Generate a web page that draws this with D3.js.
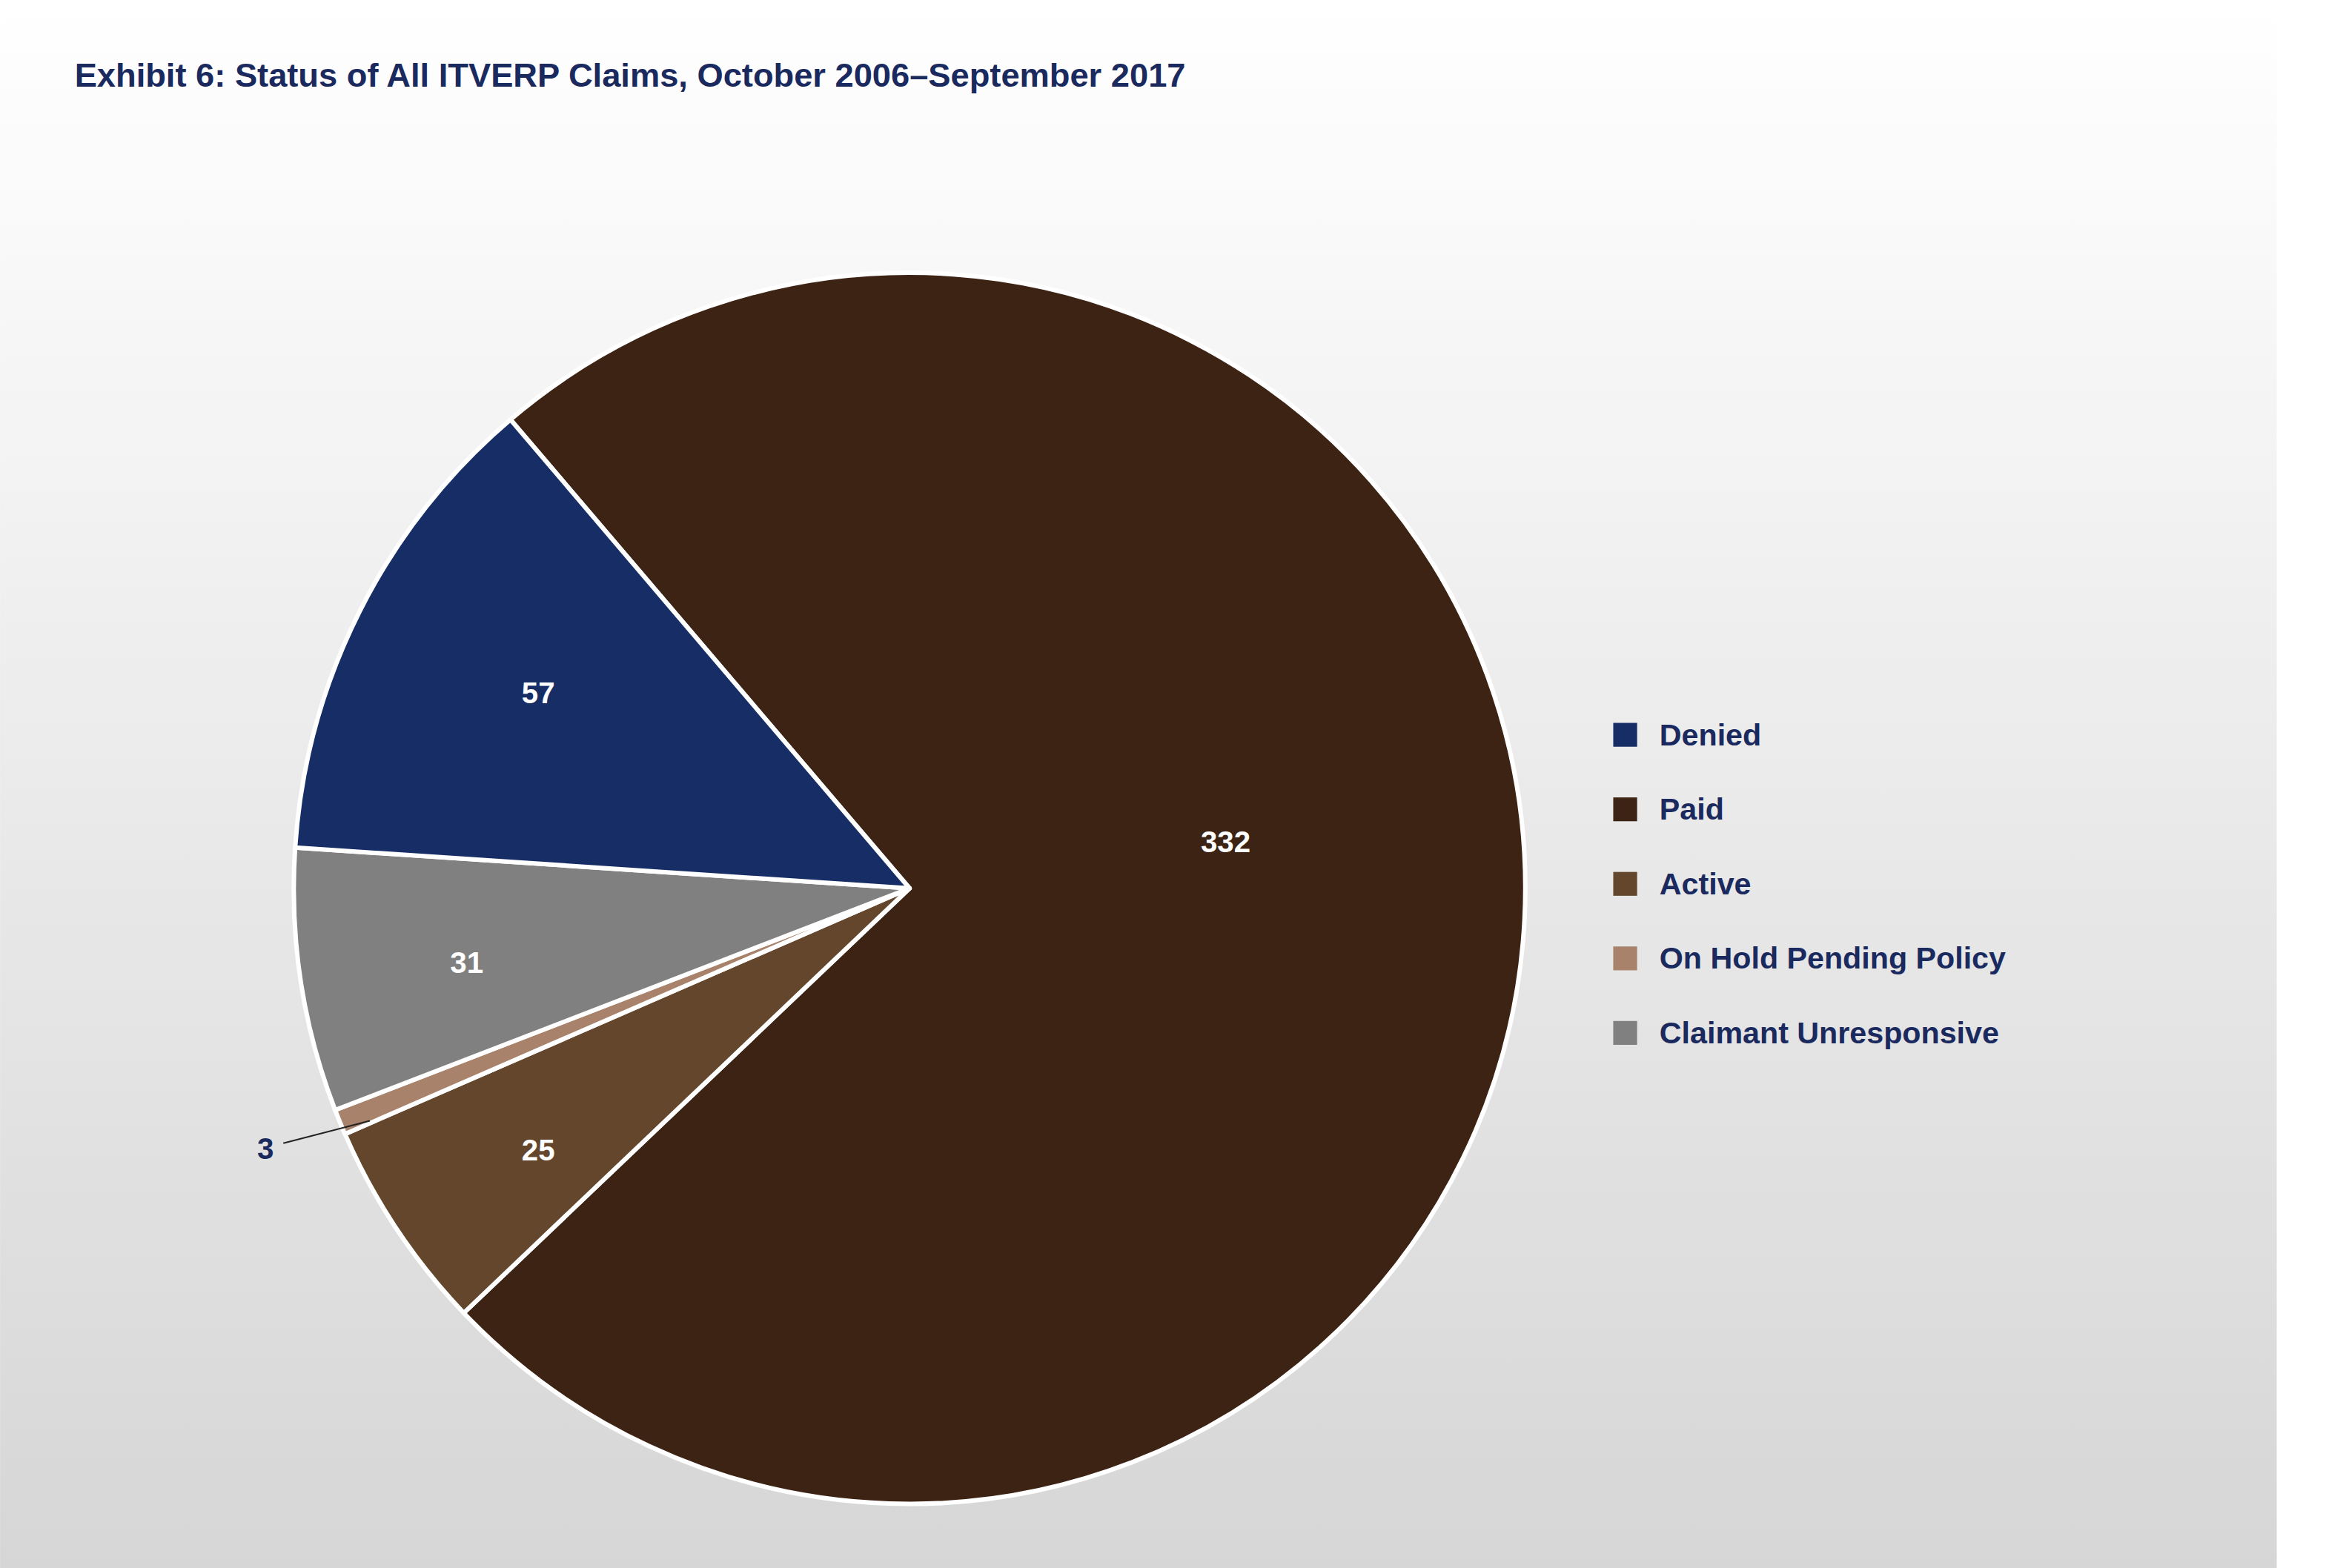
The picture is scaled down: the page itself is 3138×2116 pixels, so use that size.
<!DOCTYPE html>
<html><head><meta charset="utf-8">
<script src="https://cdn.jsdelivr.net/npm/d3@7"></script>
<style>body{margin:0;background:#fff}</style></head>
<body><script>
// drawing order (clockwise from the Denied/Paid boundary)
var categories = ["Paid", "Active", "On Hold Pending Policy", "Claimant Unresponsive", "Denied"];
var values = [332, 25, 3, 31, 57];
var colors = ["#3d2314", "#63462b", "#a8826a", "#808080", "#172d66"];
var legendOrder = ["Denied", "Paid", "Active", "On Hold Pending Policy", "Claimant Unresponsive"];
var labelPos = [[822, 565], [361, 772], [178, 771], [313, 646], [361, 465]];

var W = 1560, H = 1052, navy = "#1a2a5e";
var svg = d3.select("body").append("svg")
  .attr("width", 3138).attr("height", 2116)
  .attr("viewBox", "0 0 " + W + " " + H)
  .style("font-family", "'Liberation Sans', Arial, sans-serif")
  .style("font-weight", "bold");

var grad = svg.append("defs").append("linearGradient").attr("id", "bg")
  .attr("x1", 0).attr("y1", 0).attr("x2", 0).attr("y2", 1);
grad.append("stop").attr("offset", "0%").attr("stop-color", "#ffffff");
grad.append("stop").attr("offset", "100%").attr("stop-color", "#d6d6d6");
svg.append("rect").attr("width", 1527).attr("height", H).attr("fill", "url(#bg)");

svg.append("text").attr("x", 50).attr("y", 58).attr("font-size", 22.5)
  .attr("fill", navy).text("Exhibit 6: Status of All ITVERP Claims, October 2006\u2013September 2017");

var start = -40.4 * Math.PI / 180;
var pie = d3.pie().sort(null).startAngle(start).endAngle(start + 2 * Math.PI);
var arc = d3.arc().innerRadius(0).outerRadius(413);
var g = svg.append("g").attr("transform", "translate(610,596)");
g.selectAll("path").data(pie(values)).join("path")
  .attr("d", arc).attr("fill", (d, i) => colors[i])
  .attr("stroke", "#fff").attr("stroke-width", 3).attr("stroke-linejoin", "round");

svg.append("line").attr("x1", 190).attr("y1", 767).attr("x2", 248).attr("y2", 752)
  .attr("stroke", "#222").attr("stroke-width", 1);
svg.selectAll("text.val").data(values).join("text").attr("class", "val")
  .attr("x", (d, i) => labelPos[i][0]).attr("y", (d, i) => labelPos[i][1])
  .attr("text-anchor", "middle").attr("dominant-baseline", "central")
  .attr("font-size", 20).attr("fill", (d, i) => i === 2 ? navy : "#fff")
  .text(d => d);

var y = d3.scalePoint().domain(legendOrder).range([493, 693]);
var lg = svg.selectAll("g.lg").data(legendOrder).join("g").attr("class", "lg")
  .attr("transform", d => "translate(1082," + y(d) + ")");
lg.append("rect").attr("x", 0).attr("y", -8).attr("width", 16).attr("height", 16)
  .attr("fill", d => colors[categories.indexOf(d)]);
lg.append("text").attr("x", 31).attr("dominant-baseline", "central")
  .attr("font-size", 20.5).attr("fill", navy).text(d => d);
</script></body></html>
